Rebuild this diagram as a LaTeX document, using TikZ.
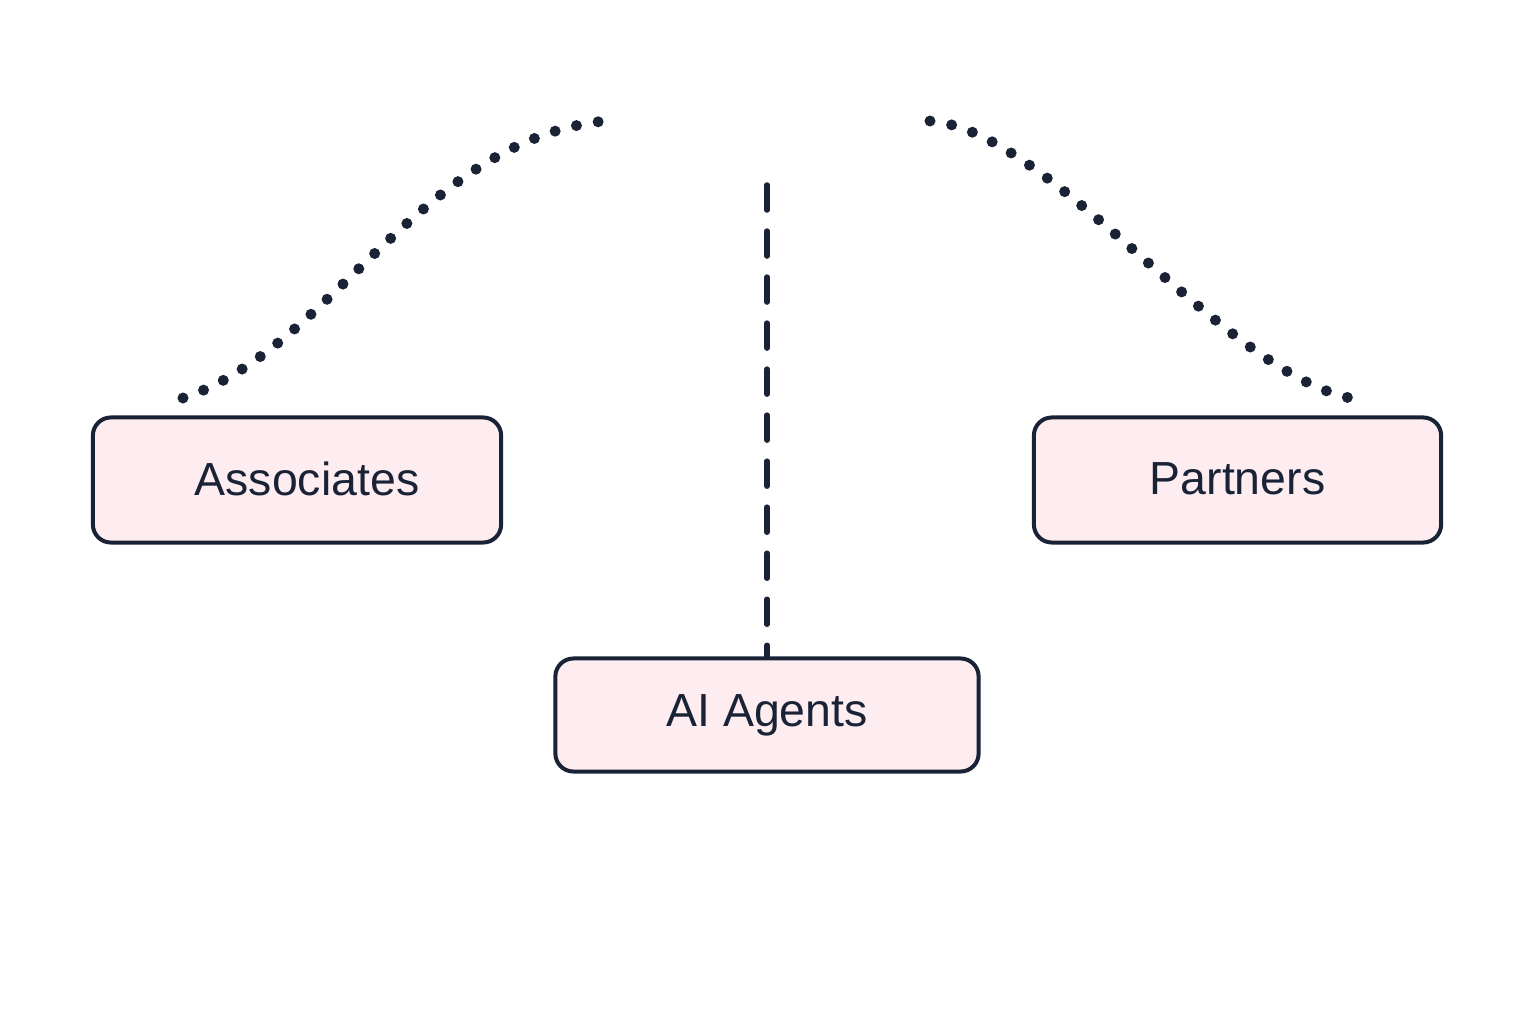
\documentclass[tikz,border=0pt]{standalone}
\usepackage{fontspec}
\setmainfont{Liberation Sans}
\definecolor{ink}{HTML}{1A2236}
\definecolor{boxfill}{HTML}{FDEDF0}
\begin{document}
\begin{tikzpicture}[x=0.01cm,y=-0.01cm,
  rolebox/.style={draw=ink, fill=boxfill, line width=0.04cm, rounded corners=0.18cm,
    text=ink, font=\fontsize{13.2}{15}\selectfont, inner sep=0pt},
  dotline/.style={draw=ink, line width=0.11cm, line cap=round, dash pattern=on 0pt off 0.22cm},
  dashline/.style={draw=ink, line width=0.055cm, line cap=round, dash pattern=on 0.25cm off 0.21cm}]
\useasboundingbox (0,0) rectangle (1536,1024);
\node[rolebox, minimum width=4.08cm, minimum height=1.25cm] (assoc) at (297,480) {\raisebox{0.02cm}{\hspace{0.2cm}Associates}};
\node[rolebox, minimum width=4.07cm, minimum height=1.25cm] (partners) at (1237.5,480) {\raisebox{0.02cm}{Partners}};
\node[rolebox, minimum width=4.23cm, minimum height=1.13cm] (agents) at (767,715) {\raisebox{0.01cm}{AI Agents}};
\coordinate (ls) at (183,398);
\coordinate (le) at (605,121);
\coordinate (rs) at (930,121);
\coordinate (re) at (1350,398);
\coordinate (top) at (767,185);
\draw[dotline] (ls) .. controls (330,350) and (420,140) .. (le);
\draw[dotline] (rs) .. controls (1050,130) and (1220,370) .. (re);
\draw[dashline] (top) -- (agents.north);
\end{tikzpicture}
\end{document}
